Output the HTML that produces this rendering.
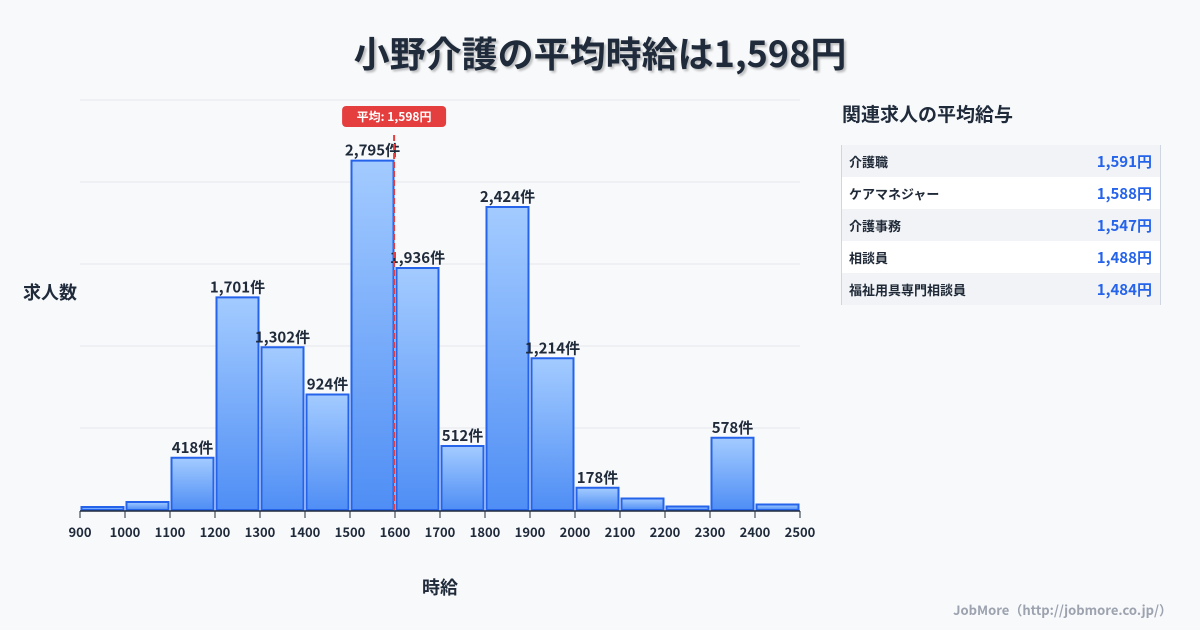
<!DOCTYPE html>
<html><head><meta charset="utf-8"><style>
body{margin:0;width:1200px;height:630px;background:#f8f9fb;font-family:"Noto Sans CJK JP","Liberation Sans",sans-serif;position:relative;overflow:hidden;color:#1f2937}
.title{position:absolute;left:0;width:1200px;top:27px;text-align:center;font-size:36px;font-weight:bold;color:#1f2a3a;text-shadow:2px 2px 2px rgba(0,0,0,.25);line-height:50px}
.ptitle{position:absolute;left:842px;top:100px;font-size:19px;font-weight:bold;color:#1f2a3a;line-height:28px}
.panel{position:absolute;left:841px;top:145px;width:318px;border-left:1px solid #cfd6e0;border-right:1px solid #cfd6e0}
.row{height:32px;display:flex;justify-content:space-between;align-items:center;padding:0 8px 0 7px;font-size:13px;font-weight:bold}
.row:nth-child(odd){background:#f1f3f6}.row:nth-child(even){background:#fff}
.row span:last-child{color:#2563eb;font-size:15px}
.foot{position:absolute;right:28px;top:600px;font-size:13px;font-weight:bold;color:#9ca3af}
</style></head><body>
<div class="title">小野介護の平均時給は1,598円</div>
<svg id="c" width="830" height="630" style="position:absolute;left:0;top:0;font-family:'Noto Sans CJK JP','Liberation Sans',sans-serif"></svg>
<div class="ptitle">関連求人の平均給与</div>
<div class="panel">
<div class="row"><span>介護職</span><span>1,591円</span></div>
<div class="row"><span>ケアマネジャー</span><span>1,588円</span></div>
<div class="row"><span>介護事務</span><span>1,547円</span></div>
<div class="row"><span>相談員</span><span>1,488円</span></div>
<div class="row"><span>福祉用具専門相談員</span><span>1,484円</span></div>
</div>
<div class="foot">JobMore（http://jobmore.co.jp/）</div>
<script>
const binStarts=[900,1000,1100,1200,1300,1400,1500,1600,1700,1800,1900,2000,2100,2200,2300,2400];
const counts=[24,64,418,1701,1302,924,2795,1936,512,2424,1214,178,92,28,578,44];
const labels=["","","418件","1,701件","1,302件","924件","2,795件","1,936件","512件","2,424件","1,214件","178件","","","578件",""];
const xTicks=[900,1000,1100,1200,1300,1400,1500,1600,1700,1800,1900,2000,2100,2200,2300,2400,2500];
const avg=1598;
const NS="http://www.w3.org/2000/svg",svg=document.getElementById('c');
const X=v=>80+(v-900)*720/1600, Y=v=>510-v*410/3280;
function el(t,a,p){const e=document.createElementNS(NS,t);for(const k in a)e.setAttribute(k,a[k]);(p||svg).appendChild(e);return e;}
const d=el('defs',{});const g=el('linearGradient',{id:'bg',x1:0,y1:0,x2:0,y2:1},d);
el('stop',{offset:0,'stop-color':'#a3cbff'},g);el('stop',{offset:1,'stop-color':'#4f8ef5'},g);
for(let i=0;i<5;i++){const l=el('line',{x1:80,x2:800,y1:100+i*82,y2:100+i*82,stroke:'#e3e7ee'});}
binStarts.forEach((b,i)=>{const x0=X(b)+1.5,x1=X(b+100)-1.5,y=Y(counts[i]);
const r=el('rect',{x:x0,y:y,width:x1-x0,height:510-y,fill:'url(#bg)',stroke:'#2563eb','stroke-width':2});

if(labels[i]){const t=el('text',{x:(x0+x1)/2,y:y-5,'text-anchor':'middle','font-size':15,'font-weight':'bold',fill:'#1f2a3a'});t.textContent=labels[i];}});
const ax=el('line',{x1:80,x2:800,y1:511,y2:511,stroke:'#1f2a3a','stroke-width':1.5});
xTicks.forEach(v=>{el('line',{x1:X(v),x2:X(v),y1:511,y2:518,stroke:'#1f2a3a'});const t=el('text',{x:X(v),y:537,'text-anchor':'middle','font-size':13,'font-weight':'bold',fill:'#1f2a3a'});t.textContent=v;});
const ml=el('line',{x1:X(avg),x2:X(avg),y1:135,y2:511,stroke:'#e53e3e','stroke-width':2,'stroke-dasharray':'6,3'});
const bx=el('rect',{x:X(avg)-52,y:106,width:104,height:21,rx:4,fill:'#e53e3e'});
const bt=el('text',{x:X(avg),y:121,'text-anchor':'middle','font-size':12,'font-weight':'bold',fill:'#fff'});bt.textContent='平均: 1,598円';
const yt=el('text',{x:50,y:299,'text-anchor':'middle','font-size':18,'font-weight':'bold',fill:'#1f2a3a'});yt.textContent='求人数';
const xt=el('text',{x:440,y:594,'text-anchor':'middle','font-size':18,'font-weight':'bold',fill:'#1f2a3a'});xt.textContent='時給';
</script>
</body></html>
